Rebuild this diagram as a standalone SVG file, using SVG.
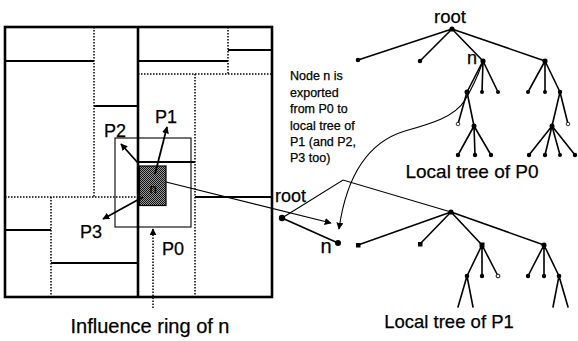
<svg xmlns="http://www.w3.org/2000/svg" width="578" height="341" viewBox="0 0 578 341">
<style>
  text { font-family: "Liberation Sans", Arial, sans-serif; fill: #000; stroke: #000; stroke-width: 0.25; }
  .solid { stroke: #000; stroke-width: 2; fill: none; }
  .dot { stroke: #000; stroke-width: 1.5; stroke-dasharray: 1.5 1.5; fill: none; }
  .edge { stroke: #000; stroke-width: 1.6; fill: none; stroke-linecap: round; }
  .thin { stroke: #000; stroke-width: 1.1; fill: none; }
  .arr { stroke: #000; stroke-width: 1.8; fill: none; }
  .lbl { font-size: 18px; }
  .note { font-size: 12.5px; }
</style>
<defs>
  <marker id="ah" viewBox="0 0 10 10" refX="9" refY="5" markerWidth="7" markerHeight="7" markerUnits="userSpaceOnUse" orient="auto">
    <path d="M0,0 L10,5 L0,10 z" fill="#000"/>
  </marker>
  <pattern id="hatch" width="2" height="2" patternUnits="userSpaceOnUse">
    <rect width="2" height="2" fill="#9a9a9a"/>
    <rect width="1" height="1" fill="#111"/>
    <rect x="1" y="1" width="1" height="1" fill="#111"/>
  </pattern>
</defs>
<rect width="578" height="341" fill="#fff"/>

<g id="grid">
  <rect x="5" y="27" width="267" height="270" fill="none" stroke="#000" stroke-width="2.6"/>
  <line x1="138" y1="27" x2="138" y2="297" stroke="#000" stroke-width="2.6"/>
  <line class="solid" x1="5" y1="61" x2="94" y2="61"/>
  <line class="solid" x1="94" y1="106" x2="138" y2="106"/>
  <line class="solid" x1="138" y1="61" x2="228" y2="61"/>
  <line class="solid" x1="228" y1="50" x2="272" y2="50"/>
  <line class="solid" x1="138" y1="162" x2="195" y2="162"/>
  <line class="solid" x1="195" y1="197" x2="272" y2="197" stroke-width="1.4"/>
  <line class="solid" x1="5" y1="230" x2="51" y2="230"/>
  <line class="solid" x1="51" y1="263" x2="138" y2="263"/>
  <line class="dot" x1="94" y1="27" x2="94" y2="197"/>
  <line class="dot" x1="5" y1="197" x2="138" y2="197"/>
  <line class="dot" x1="228" y1="27" x2="228" y2="74"/>
  <line class="dot" x1="138" y1="74" x2="272" y2="74"/>
  <line class="dot" x1="195" y1="74" x2="195" y2="297"/>
  <line class="dot" x1="51" y1="197" x2="51" y2="297"/>
</g>

<g id="influence-ring">
  <rect x="115" y="138" width="76" height="89" fill="none" stroke="#000" stroke-width="1.1"/>
</g>

<g id="node-n-box">
  <rect x="139.5" y="166" width="26.5" height="39.5" fill="url(#hatch)" stroke="#000" stroke-width="1.2"/>
  <text x="153" y="193" font-size="13" text-anchor="middle">n</text>
</g>

<g id="labels-P">
  <text class="lbl" x="155" y="123">P1</text>
  <text class="lbl" x="104" y="137">P2</text>
  <text class="lbl" x="80" y="238">P3</text>
  <text class="lbl" x="162" y="255">P0</text>
  <text x="150" y="333" font-size="20" text-anchor="middle">Influence ring of n</text>
</g>

<g id="note">
  <text class="note" x="290" y="80">Node n is</text>
  <text class="note" x="290" y="96.5">exported</text>
  <text class="note" x="290" y="113">from P0 to</text>
  <text class="note" x="290" y="129.5">local tree of</text>
  <text class="note" x="290" y="146">P1 (and P2,</text>
  <text class="note" x="290" y="162">P3 too)</text>
</g>

<g id="connectors">
  <line class="arr" x1="138" y1="163" x2="121" y2="144" marker-end="url(#ah)"/>
  <line class="arr" x1="155" y1="174" x2="167" y2="127" marker-end="url(#ah)"/>
  <line class="arr" x1="143" y1="197" x2="103" y2="219" marker-end="url(#ah)"/>
  <line class="dot" x1="153" y1="308" x2="153" y2="229" stroke-width="1.3" marker-end="url(#ah)"/>
  <line class="thin" x1="166" y1="182" x2="331" y2="223" marker-end="url(#ah)"/>
  <path class="thin" d="M482,64 C477,78 471,90 465,100 C455,117 430,124 405,131 C375,140 348,165 339,229" marker-end="url(#ah)"/>
</g>

<g id="tree-P0">
  <text x="450" y="23" font-size="18.5" text-anchor="middle">root</text>
  <text x="472" y="64" font-size="18" text-anchor="middle">n</text>
  <text x="472" y="178" font-size="19" text-anchor="middle">Local tree of P0</text>
  <path class="edge" d="M452,29 L358,60 M452,29 L420,61 M452,29 L483,61 M452,29 L545,61
    M483,61 L467,92 M483,61 L482,92 M483,61 L498,92
    M467,92 L458,124 M467,92 L474,126
    M474,126 L458,155 M474,126 L475,155 M474,126 L491,155
    M545,61 L528,92 M545,61 L545,92 M545,61 L560,92
    M560,92 L552,126 M560,92 L568,124
    M552,126 L529,155 M552,126 L545,155 M552,126 L560,155 M552,126 L575,155"/>
  <g fill="#000">
    <circle cx="452" cy="29" r="2.6"/>
    <circle cx="358" cy="60" r="2.3"/>
    <circle cx="420" cy="61" r="2.3"/>
    <circle cx="483" cy="61" r="2.6"/>
    <circle cx="545" cy="61" r="2.6"/>
    <circle cx="467" cy="92" r="2.5"/>
    <circle cx="482" cy="92" r="2"/>
    <circle cx="498" cy="92" r="2"/>
    <circle cx="474" cy="126" r="2.5"/>
    <circle cx="458" cy="155" r="2.2"/>
    <circle cx="475" cy="155" r="2.2"/>
    <circle cx="491" cy="155" r="2.2"/>
    <circle cx="528" cy="92" r="2"/>
    <circle cx="545" cy="92" r="2"/>
    <circle cx="560" cy="92" r="2.2"/>
    <circle cx="552" cy="126" r="2.5"/>
    <circle cx="529" cy="155" r="2.2"/>
    <circle cx="545" cy="155" r="2.2"/>
    <circle cx="560" cy="155" r="2"/>
    <circle cx="575" cy="155" r="2.2"/>
  </g>
  <circle cx="458" cy="124" r="1.8" fill="#fff" stroke="#000" stroke-width="0.8"/>
  <circle cx="568" cy="124" r="1.8" fill="#fff" stroke="#000" stroke-width="0.8"/>
</g>

<g id="tree-P1">
  <text x="275" y="202" font-size="18">root</text>
  <text x="326" y="253" font-size="20" text-anchor="middle">n</text>
  <text x="449" y="328" font-size="18.5" text-anchor="middle">Local tree of P1</text>
  <line x1="282" y1="218" x2="338" y2="243" stroke="#000" stroke-width="1.8"/>
  <path class="thin" d="M282,218 L343,180 L451,212" stroke-width="1.3"/>
  <path class="edge" d="M451,212 L358,245 M451,212 L420,244 M451,212 L482,245 M451,212 L544,245
    M482,245 L467,276 M482,245 L482,276 M482,245 L498,276
    M467,276 L458,307 M467,276 L473,307
    M544,245 L528,276 M544,245 L544,276 M544,245 L559,276
    M559,276 L553,307 M559,276 L568,307"/>
  <g fill="#000">
    <circle cx="282" cy="218" r="3.2"/>
    <circle cx="338" cy="243" r="3"/>
    <circle cx="451" cy="212" r="2.6"/>
    <rect x="356" y="243" width="4.5" height="4.5"/>
    <rect x="418" y="242" width="4.5" height="4.5"/>
    <rect x="479.5" y="242.5" width="5" height="5"/>
    <circle cx="544" cy="245" r="2.6"/>
    <circle cx="467" cy="276" r="2.3"/>
    <circle cx="482" cy="276" r="2.2"/>
    <circle cx="528" cy="276" r="2.2"/>
    <circle cx="544" cy="276" r="2.2"/>
    <circle cx="559" cy="276" r="2.3"/>
  </g>
  <circle cx="498" cy="276" r="1.9" fill="#fff" stroke="#000" stroke-width="1"/>
</g>
</svg>
